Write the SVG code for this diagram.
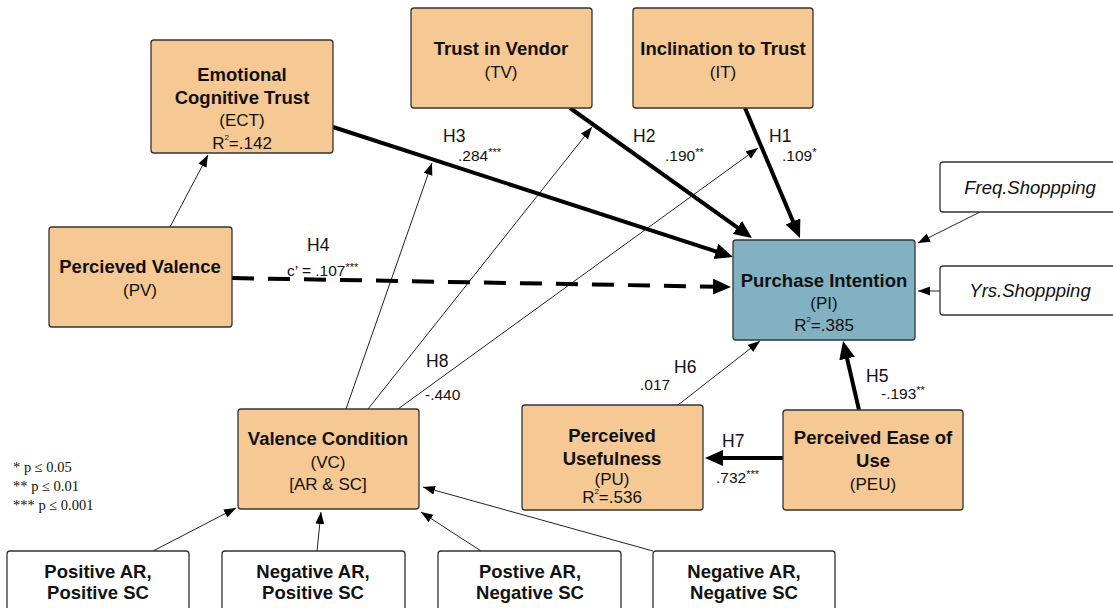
<svg xmlns="http://www.w3.org/2000/svg" width="1113" height="608" viewBox="0 0 1113 608">
<defs>
<style>
.box{fill:#F6C893;stroke:#333;stroke-width:1.3}
.pi{fill:#82B1C2;stroke:#333;stroke-width:1.3}
.wbox{fill:#fff;stroke:#333;stroke-width:1.3}
text{font-family:"Liberation Sans",Arial,sans-serif;fill:#111;text-anchor:middle}
.t{font-weight:bold;font-size:18.5px}
.s{font-size:17px}
.it{font-style:italic;font-size:18.5px}
.lab{font-size:17.5px;text-anchor:start}
.val{font-size:15.5px;text-anchor:start}
.leg{font-family:"Liberation Serif","Times New Roman",serif;font-size:14.5px;text-anchor:start}
.thin{stroke:#222;stroke-width:1;fill:none;marker-end:url(#ah)}
.thick{stroke:#000;stroke-width:4;fill:none;marker-end:url(#ahb)}
.dash{stroke:#000;stroke-width:4;fill:none;stroke-dasharray:22 14;marker-end:url(#ahb)}
</style>
<marker id="ah" markerUnits="userSpaceOnUse" markerWidth="13" markerHeight="10" refX="12" refY="4.5" orient="auto"><path d="M0,0 L12,4.5 L0,9 Z" fill="#000"/></marker>
<marker id="ahb" markerUnits="userSpaceOnUse" markerWidth="20" markerHeight="18" refX="8" refY="8" orient="auto"><path d="M0,0 L18,8 L0,16 Z" fill="#000"/></marker>
</defs>
<rect width="1113" height="608" fill="#fff"/>

<g id="connectors">
<line class="thin" x1="170" y1="227" x2="208" y2="155"/>
<line class="thin" x1="346" y1="409" x2="432" y2="163"/>
<line class="thin" x1="368" y1="409" x2="592" y2="127"/>
<line class="thin" x1="398" y1="409" x2="758" y2="148"/>
<line class="thin" x1="980" y1="212" x2="918" y2="243"/>
<line class="thin" x1="940" y1="291" x2="918" y2="291"/>
<line class="thin" x1="678" y1="405" x2="760" y2="341"/>
<line class="thin" x1="153" y1="551" x2="236" y2="508"/>
<line class="thin" x1="317" y1="551" x2="321" y2="512"/>
<line class="thin" x1="481" y1="551" x2="421" y2="512"/>
<line class="thin" x1="653" y1="551" x2="423" y2="487"/>
<line class="thick" x1="333" y1="127" x2="723.5" y2="253.9"/>
<line class="thick" x1="570" y1="108" x2="743.9" y2="232.2"/>
<line class="thick" x1="745" y1="108" x2="796.1" y2="228.8"/>
<line class="thick" x1="859" y1="410" x2="845.3" y2="350.7"/>
<line class="thick" x1="783" y1="458" x2="715" y2="458"/>
<line class="dash" x1="232" y1="278" x2="721" y2="286.8"/>
</g>

<g id="ECT">
<rect class="box" x="151" y="40" width="182" height="113" rx="3"/>
<text class="t" x="242" y="81">Emotional</text>
<text class="t" x="242" y="104">Cognitive Trust</text>
<text class="s" x="242" y="126">(ECT)</text>
<text class="s" x="242" y="149">R<tspan font-size="8" dy="-9">2</tspan><tspan dy="9">=.142</tspan></text>
</g>

<g id="TV">
<rect class="box" x="411" y="8" width="181" height="100" rx="3"/>
<text class="t" x="501" y="55">Trust in Vendor</text>
<text class="s" x="501" y="78">(TV)</text>
</g>

<g id="IT">
<rect class="box" x="633" y="8" width="180" height="100" rx="3"/>
<text class="t" x="723" y="55">Inclination to Trust</text>
<text class="s" x="723" y="78">(IT)</text>
</g>

<g id="PV">
<rect class="box" x="49" y="227" width="183" height="100" rx="3"/>
<text class="t" x="140" y="273">Percieved Valence</text>
<text class="s" x="140" y="296">(PV)</text>
</g>

<g id="PI">
<rect class="pi" x="733" y="240" width="182" height="100" rx="3"/>
<text class="t" x="824" y="287">Purchase Intention</text>
<text class="s" x="824" y="309">(PI)</text>
<text class="s" x="824" y="331">R<tspan font-size="8" dy="-9">2</tspan><tspan dy="9">=.385</tspan></text>
</g>

<g id="FreqShopping">
<rect class="wbox" x="940" y="162" width="180" height="50" rx="3"/>
<text class="it" x="1030" y="194">Freq.Shoppping</text>
</g>

<g id="YrsShopping">
<rect class="wbox" x="940" y="266" width="180" height="49" rx="3"/>
<text class="it" x="1030" y="297">Yrs.Shoppping</text>
</g>

<g id="PU">
<rect class="box" x="522" y="405" width="181" height="105" rx="3"/>
<text class="t" x="612" y="442">Perceived</text>
<text class="t" x="612" y="465">Usefulness</text>
<text class="s" x="612" y="485">(PU)</text>
<text class="s" x="612" y="503">R<tspan font-size="8" dy="-9">2</tspan><tspan dy="9">=.536</tspan></text>
</g>

<g id="PEU">
<rect class="box" x="783" y="410" width="180" height="100" rx="3"/>
<text class="t" x="873" y="444">Perceived Ease of</text>
<text class="t" x="873" y="467">Use</text>
<text class="s" x="873" y="490">(PEU)</text>
</g>

<g id="VC">
<rect class="box" x="238" y="409" width="181" height="100" rx="3"/>
<text class="t" x="328" y="445">Valence Condition</text>
<text class="s" x="328" y="468">(VC)</text>
<text class="s" x="328" y="490">[AR &amp; SC]</text>
</g>

<g id="B1">
<rect class="wbox" x="7" y="551" width="182" height="70" rx="3"/>
<text class="t" x="98" y="578">Positive AR,</text>
<text class="t" x="98" y="599">Positive SC</text>
</g>
<g id="B2">
<rect class="wbox" x="222" y="551" width="183" height="70" rx="3"/>
<text class="t" x="313" y="578">Negative AR,</text>
<text class="t" x="313" y="599">Positive SC</text>
</g>
<g id="B3">
<rect class="wbox" x="438" y="551" width="183" height="70" rx="3"/>
<text class="t" x="530" y="578">Postive AR,</text>
<text class="t" x="530" y="599">Negative SC</text>
</g>
<g id="B4">
<rect class="wbox" x="653" y="551" width="182" height="70" rx="3"/>
<text class="t" x="744" y="578">Negative AR,</text>
<text class="t" x="744" y="599">Negative SC</text>
</g>

<g id="labels">
<text class="lab" x="443" y="142">H3</text>
<text class="val" x="458" y="161">.284<tspan font-size="11" dy="-5">***</tspan></text>
<text class="lab" x="633" y="142">H2</text>
<text class="val" x="665" y="161">.190<tspan font-size="11" dy="-5">**</tspan></text>
<text class="lab" x="769" y="142">H1</text>
<text class="val" x="782" y="161">.109<tspan font-size="11" dy="-5">*</tspan></text>
<text class="lab" x="307" y="251">H4</text>
<text class="val" x="287" y="276">c’ = .107<tspan font-size="11" dy="-5">***</tspan></text>
<text class="lab" x="426" y="367">H8</text>
<text class="val" x="425" y="400">-.440</text>
<text class="lab" x="674" y="373">H6</text>
<text class="val" x="640" y="390">.017</text>
<text class="lab" x="866" y="382">H5</text>
<text class="val" x="881" y="399">-.193<tspan font-size="11" dy="-5">**</tspan></text>
<text class="lab" x="722" y="447">H7</text>
<text class="val" x="716" y="483">.732<tspan font-size="11" dy="-5">***</tspan></text>
</g>

<g id="legend">
<text class="leg" x="13" y="472">* p ≤ 0.05</text>
<text class="leg" x="13" y="491">** p ≤ 0.01</text>
<text class="leg" x="13" y="510">*** p ≤ 0.001</text>
</g>
</svg>
